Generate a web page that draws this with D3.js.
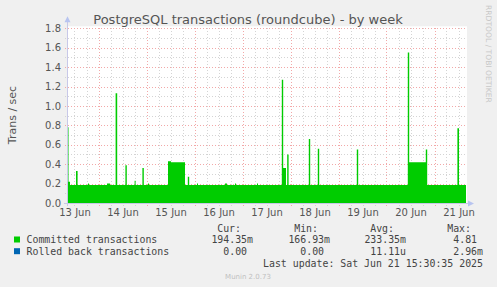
<!DOCTYPE html>
<html>
<head>
<meta charset="utf-8">
<script src="https://cdn.jsdelivr.net/npm/d3@7"></script>
<style>
  body { margin: 0; background: #f0f0f0; }
  svg text { font-family: "DejaVu Sans", sans-serif; }
  .mono { font-family: "DejaVu Sans Mono", monospace; white-space: pre; }
</style>
</head>
<body>
<div id="chart"></div>
<script>
// Chart data (hours counted from the left edge of the graph, step values)
const startTime = Date.UTC(2025, 5, 13, 8, 15);
const spanHours = 200;

const hourOffsets = [0, 0.75, 1.5, 4.5, 5.3, 10.5, 11, 20, 21.5, 24.3, 25.1, 29.2, 29.9,
  33.8, 34.3, 37.7, 38.4, 40.5, 41, 50.5, 52, 59, 60.4, 61.1, 65, 65.5, 79, 80, 84, 84.5,
  95, 95.5, 107.4, 108.1, 109.5, 110.1, 110.8, 120.9, 121.6, 125.4, 126.1, 144.9, 145.6,
  170.4, 171.1, 179.4, 180.1, 195.2, 196, 199.5];
const committed = [0.78, 0.22, 0.186, 0.33, 0.186, 0.2, 0.186, 0.2, 0.186, 1.13, 0.186, 0.39, 0.186,
  0.23, 0.186, 0.36, 0.186, 0.2, 0.186, 0.43, 0.42, 0.186, 0.27, 0.186, 0.2, 0.186, 0.2, 0.186, 0.2, 0.186,
  0.2, 0.186, 1.27, 0.36, 0.186, 0.5, 0.186, 0.66, 0.186, 0.56, 0.186, 0.55, 0.186,
  1.55, 0.42, 0.55, 0.186, 0.77, 0.186, 0.186];
const rolledBack = hourOffsets.map(() => 0);

const yTicks = [0, 0.2, 0.4, 0.6, 0.8, 1.0, 1.2, 1.4, 1.6, 1.8];
const dayLabels = ['13 Jun', '14 Jun', '15 Jun', '16 Jun', '17 Jun', '18 Jun', '19 Jun', '20 Jun', '21 Jun'];

// Legend table
const seriesNames = ['Committed transactions', 'Rolled back transactions'];
const seriesColors = ['#00cc00', '#0066b3'];
const curVals = ['194.35m', '0.00 '];
const minVals = ['166.93m', '0.00 '];
const avgVals = ['233.35m', '11.11u'];
const maxVals = ['4.81 ', '2.96m'];

const W = 497, H = 287;
const plot = { left: 67, right: 467, top: 28.3, bottom: 203 };

const svg = d3.select('#chart').append('svg')
  .attr('width', W)
  .attr('height', H);

svg.append('rect').attr('width', W).attr('height', H).attr('fill', '#f0f0f0');
svg.append('rect')
  .attr('x', plot.left).attr('y', plot.top - 2)
  .attr('width', plot.right - plot.left).attr('height', plot.bottom - plot.top + 2)
  .attr('fill', '#ffffff');

const x = d3.scaleUtc()
  .domain([new Date(startTime), new Date(startTime + spanHours * 3600e3)])
  .range([plot.left, plot.right]);
const y = d3.scaleLinear()
  .domain([0, 1.8])
  .range([plot.bottom, plot.top]);

const toDate = h => new Date(startTime + h * 3600e3);

// Grid
const grid = svg.append('g').attr('shape-rendering', 'crispEdges');
const minorX = d3.utcHour.every(6).range(x.domain()[0], x.domain()[1]);
minorX.forEach(d => {
  const major = d.getUTCHours() === 0;
  grid.append('line')
    .attr('x1', Math.round(x(d)) + 0.5).attr('x2', Math.round(x(d)) + 0.5)
    .attr('y1', plot.top).attr('y2', plot.bottom + 3)
    .attr('stroke', major ? '#f2a8a8' : '#d4d4d4')
    .attr('stroke-dasharray', '1,2');
});
d3.range(1, 19).forEach(i => {
  const v = i / 10;
  const major = i % 2 === 0;
  grid.append('line')
    .attr('x1', plot.left - 2).attr('x2', plot.right)
    .attr('y1', Math.round(y(v)) + 0.5).attr('y2', Math.round(y(v)) + 0.5)
    .attr('stroke', major ? '#f2a8a8' : '#d4d4d4')
    .attr('stroke-dasharray', '1,2');
});

// Series
const points = hourOffsets.map((h, i) => ({ t: toDate(h), v: committed[i], r: rolledBack[i] }));
points.push({ t: toDate(199.5), v: committed[committed.length - 1], r: 0 });

const area = d3.area()
  .curve(d3.curveStepAfter)
  .x(d => x(d.t))
  .y0(y(0))
  .y1(d => y(d.v));

svg.append('path')
  .datum(points)
  .attr('d', area)
  .attr('fill', '#00cc00');

// rolled back transactions stay at zero, stacked on top
svg.append('path')
  .datum(points)
  .attr('d', d3.area().curve(d3.curveStepAfter).x(d => x(d.t)).y0(d => y(d.v)).y1(d => y(d.v + d.r)))
  .attr('fill', '#0066b3');

// Axes lines + arrows
svg.append('line')
  .attr('x1', plot.left + 0.5).attr('x2', plot.left + 0.5)
  .attr('y1', plot.bottom + 3).attr('y2', plot.top - 7)
  .attr('stroke', '#c8c8e8');
svg.append('line')
  .attr('x1', plot.left - 3).attr('x2', plot.right + 4)
  .attr('y1', plot.bottom + 0.5).attr('y2', plot.bottom + 0.5)
  .attr('stroke', '#c8c8e8');
svg.append('path')
  .attr('d', `M${plot.left - 2.5},${plot.top - 6} L${plot.left + 0.5},${plot.top - 12} L${plot.left + 3.5},${plot.top - 6} Z`)
  .attr('fill', '#b8c4f0');
svg.append('path')
  .attr('d', `M${plot.right + 1},${plot.bottom - 2.5} L${plot.right + 7},${plot.bottom + 0.5} L${plot.right + 1},${plot.bottom + 3.5} Z`)
  .attr('fill', '#b8c4f0');

// Y axis labels
svg.append('g')
  .attr('transform', `translate(${plot.left - 6},0)`)
  .call(d3.axisLeft(y).tickValues(yTicks).tickFormat(d3.format('.1f')).tickSize(0).tickPadding(0))
  .call(g => g.select('.domain').remove())
  .selectAll('text')
  .attr('fill', '#555')
  .style('font-size', '10px')
  .attr('font-family', 'DejaVu Sans');

// X axis labels (centered at noon of each day)
const labelDates = dayLabels.map((_, i) => new Date(Date.UTC(2025, 5, 13 + i, 12)));
svg.append('g')
  .attr('transform', `translate(0,${plot.bottom + 3})`)
  .call(d3.axisBottom(x).tickValues(labelDates).tickFormat((d, i) => dayLabels[i]).tickSize(0).tickPadding(3))
  .call(g => g.select('.domain').remove())
  .selectAll('text')
  .attr('fill', '#555')
  .style('font-size', '10px')
  .attr('font-family', 'DejaVu Sans');

// Title and side texts
svg.append('text')
  .attr('x', 248).attr('y', 24)
  .attr('text-anchor', 'middle')
  .attr('fill', '#555')
  .style('font-size', '13px')
  .text('PostgreSQL transactions (roundcube) - by week');

svg.append('text')
  .attr('transform', 'translate(16,115) rotate(-90)')
  .attr('text-anchor', 'middle')
  .attr('fill', '#555')
  .style('font-size', '11px')
  .text('Trans / sec');

svg.append('text')
  .attr('transform', 'translate(485.5,5) rotate(90)')
  .attr('fill', '#c8c8c8')
  .style('font-size', '7.6px')
  .text('RRDTOOL / TOBI OETIKER');

// Legend
const legend = svg.append('g').attr('class', 'legend');
const colEnds = [253, 330, 406, 483];
['Cur:', 'Min:', 'Avg:', 'Max:'].forEach((h, i) => {
  legend.append('text')
    .attr('class', 'mono')
    .attr('x', colEnds[i] - 12).attr('y', 231.5)
    .attr('text-anchor', 'end')
    .attr('fill', '#444')
    .style('font-size', '9.9px')
    .text(h);
});

seriesNames.forEach((name, i) => {
  const rowY = 243 + i * 11.7;
  legend.append('rect')
    .attr('x', 14).attr('y', rowY - 6.5)
    .attr('width', 6).attr('height', 6)
    .attr('fill', seriesColors[i]);
  legend.append('text')
    .attr('class', 'mono')
    .attr('x', 26.5).attr('y', rowY)
    .attr('fill', '#444')
    .style('font-size', '9.9px')
    .text(name);
  [curVals[i], minVals[i], avgVals[i], maxVals[i]].forEach((v, j) => {
    legend.append('text')
      .attr('class', 'mono')
      .attr('x', colEnds[j]).attr('y', rowY)
      .attr('text-anchor', 'end')
      .attr('fill', '#444')
      .style('font-size', '9.9px')
      .text(v);
  });
});

legend.append('text')
  .attr('class', 'mono')
  .attr('x', 483).attr('y', 267)
  .attr('text-anchor', 'end')
  .attr('fill', '#444')
  .style('font-size', '9.9px')
  .text('Last update: Sat Jun 21 15:30:35 2025');

svg.append('text')
  .attr('x', 248).attr('y', 279)
  .attr('text-anchor', 'middle')
  .attr('fill', '#c0c0c0')
  .style('font-size', '7px')
  .text('Munin 2.0.73');
</script>
</body>
</html>
